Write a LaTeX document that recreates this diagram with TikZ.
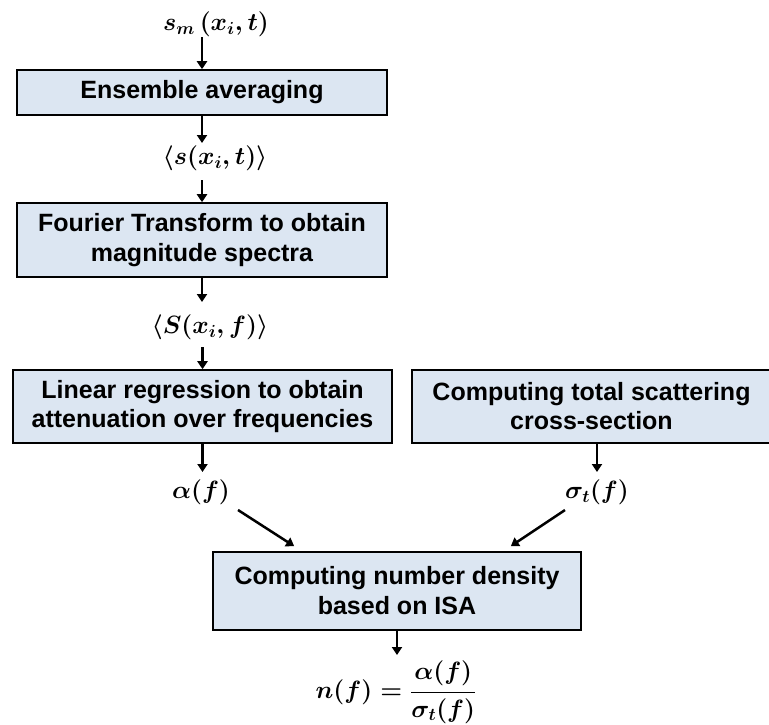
\RequirePackage{fix-cm}
\documentclass[tikz,border=0pt]{standalone}
\usepackage[no-math]{fontspec}
\setmainfont{Liberation Sans}
\usetikzlibrary{arrows.meta,calc}
\definecolor{boxfill}{RGB}{220,230,242}
\begin{document}
\begin{tikzpicture}[x=1pt,y=-1pt,
  stepbox/.style={draw=black, line width=1.6pt, fill=boxfill, align=center,
    inner sep=0pt, font=\fontsize{25}{30}\selectfont\bfseries},
  boldlbl/.style={inner sep=0pt, font=\fontsize{25}{29}\selectfont\boldmath},
  arr/.style={line width=2.5pt, -{Triangle[length=8pt,width=10pt]}}]
\useasboundingbox (0,0) rectangle (769,724);

% processing steps
\node[stepbox, minimum width=370pt, minimum height=45pt] (ens) at (202,92.5)
  {Ensemble averaging};
\node[stepbox, minimum width=370pt, minimum height=74pt] (four) at (202,240)
  {Fourier Transform to obtain\\magnitude spectra};
\node[stepbox, minimum width=379pt, minimum height=73pt,
  font=\fontsize{25}{29}\selectfont\bfseries] (lin) at (202.5,406.5)
  {Linear regression to obtain\\attenuation over frequencies};
\node[stepbox, minimum width=359pt, minimum height=73pt,
  font=\fontsize{25}{29}\selectfont\bfseries] (tot) at (591.5,406.5)
  {Computing total scattering\\cross-section};
\node[stepbox, minimum width=368pt, minimum height=78pt] (isa) at (397,591)
  {Computing number density\\based on ISA};

% signals between the steps
\node[boldlbl] (sm) at (216,24) {$s_m\,(x_i,t)$};
\node[boldlbl] (avg1) at (215,158) {$\langle s(x_i,t)\rangle$};
\node[boldlbl] (avg2) at (210,327) {$\langle S(x_i,f)\rangle$};
\node[boldlbl] (alpha) at (201,492) {$\alpha(f)$};
\node[boldlbl] (sigma) at (597,492) {$\sigma_t(f)$};
\node[boldlbl] (nf) at (396,692)
  {$\displaystyle n(f)=\frac{\alpha(f)}{\sigma_t(f)}$};

% flow
\draw[arr] ($(sm.center -| ens.north)+(0,13)$) -- (ens.north);
\draw[arr] (ens.south) -- ($(avg1.center -| ens.south)+(0,-15)$);
\draw[arr] ($(avg1.center -| four.north)+(0,22)$) -- (four.north);
\draw[arr] (four.south) -- ($(avg2.center -| four.south)+(0,-25)$);
\draw[arr] ($(avg2.center -| lin.north)+(0,20)$) -- (lin.north);
\draw[arr] (lin.south) -- ($(alpha.center -| lin.south)+(0,-20)$);
\draw[arr] (tot.south -| sigma.center) -- ($(sigma.center)+(0,-20)$);
\draw[arr] ($(alpha.center)+(37,18)$) -- ($(isa.north west)+(82,-5)$);
\draw[arr] ($(sigma.center)+(-32,18)$) -- ($(isa.north east)+(-71,-5)$);
\draw[arr] (isa.south) -- ($(nf.center -| isa.south)+(0,-37)$);
\end{tikzpicture}
\end{document}
